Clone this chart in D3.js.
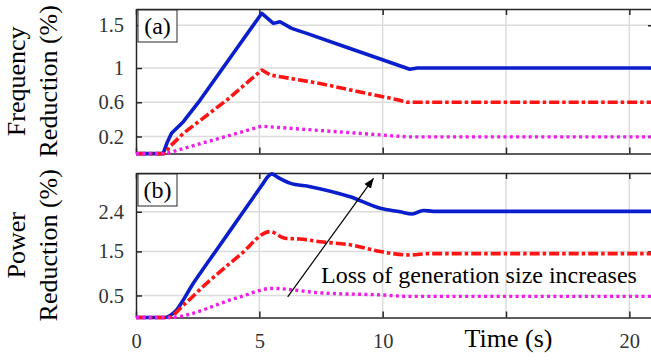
<!DOCTYPE html>
<html>
<head>
<meta charset="utf-8">
<script src="https://cdn.jsdelivr.net/npm/d3@7"></script>
<style>
  body { margin: 0; background: #fff; }
  svg { display: block; font-family: "Liberation Serif", "Times New Roman", serif; }
</style>
</head>
<body>
<svg id="chart" width="651" height="361"></svg>
<script>
// time ticks (s)
const timeTicks = [0, 5, 10, 15, 20];
const timeLabels = ['0', '5', '10', '', '20'];

// (a) frequency reduction (%)
const freqTicks = [0.2, 0.6, 1, 1.5];
const freqBlueT = [0, 1.1, 1.25, 1.44, 1.92, 2.6, 5.1, 5.57, 5.84, 6.31, 6.92, 8.27, 11.1, 11.4, 21];
const freqBlueV = [0, 0, 0.12, 0.237, 0.373, 0.626, 1.64, 1.522, 1.541, 1.464, 1.405, 1.269, 0.985, 1.0, 1.0];
const freqRedT = [0, 1.15, 1.4, 1.92, 3.68, 5.1, 5.45, 7.46, 9.08, 10.6, 11.0, 21];
const freqRedV = [0, 0, 0.09, 0.237, 0.626, 0.977, 0.918, 0.82, 0.72, 0.63, 0.6, 0.6];
const freqMagT = [0, 1.2, 5.1, 7.46, 10, 11, 21];
const freqMagV = [0, 0, 0.32, 0.27, 0.217, 0.195, 0.195];

// (b) power reduction (%)
const powTicks = [0.5, 1.5, 2.4];
const powBlueT = [0, 1.18, 1.4, 1.65, 1.92, 2.26, 2.66, 3.2, 4.2, 5.1, 5.35, 5.5, 5.75, 6.24, 7.06, 8.68, 9.9, 10.7, 11.2, 11.65, 12.05, 21];
const powBlueV = [0, 0, 0.05, 0.17, 0.4, 0.72, 1.05, 1.48, 2.28, 3.0, 3.2, 3.26, 3.18, 3.05, 2.97, 2.74, 2.48, 2.4, 2.35, 2.43, 2.41, 2.41];
const powRedT = [0, 1.3, 1.92, 2.87, 3.81, 4.22, 5.43, 6.04, 6.65, 7.46, 8.68, 9.9, 10.3, 11.1, 11.9, 21];
const powRedV = [0, 0, 0.28, 0.78, 1.23, 1.42, 1.95, 1.8, 1.78, 1.72, 1.65, 1.5, 1.46, 1.42, 1.45, 1.45];
const powMagT = [0, 1.3, 4.22, 5.5, 7.46, 10, 11, 21];
const powMagV = [0, 0, 0.47, 0.66, 0.56, 0.51, 0.48, 0.48];

const svg = d3.select('#chart');
const x = d3.scaleLinear().domain([0, 21]).range([136, 654]);

const styles = {
  blue: { color: '#0a1ecb', dash: null, width: 3.6 },
  red: { color: '#ff1414', dash: '10,3,3.5,3', width: 3.6 },
  mag: { color: '#ee1ee6', dash: '3,3.3', width: 3.4 },
};

function zip(t, v) {
  return t.map((d, i) => [d, v[i]]);
}

function drawPanel(p) {
  const y = d3.scaleLinear().domain(p.domain).range(p.range);
  const g = svg.append('g');
  const [x0, x1] = x.range();
  const [yb, yt] = y.range();

  // grid
  g.selectAll('.gx').data(timeTicks.filter((d) => d > 0)).enter().append('line')
    .attr('x1', (d) => x(d)).attr('x2', (d) => x(d))
    .attr('y1', yb).attr('y2', yt)
    .attr('stroke', '#dcdcdc').attr('stroke-width', 1.5);
  g.selectAll('.gy').data(p.ticks).enter().append('line')
    .attr('x1', x0).attr('x2', x1)
    .attr('y1', (d) => y(d)).attr('y2', (d) => y(d))
    .attr('stroke', '#dcdcdc').attr('stroke-width', 1.5);

  // axes (ticks inward, box on)
  const bottom = d3.axisBottom(x).tickValues(timeTicks).tickSize(-6).tickSizeOuter(0).tickPadding(16)
    .tickFormat((d, i) => (p.xLabels ? timeLabels[i] : ''));
  const top = d3.axisTop(x).tickValues(timeTicks).tickSize(-6).tickSizeOuter(0).tickFormat('');
  const left = d3.axisLeft(y).tickValues(p.ticks).tickSize(-6).tickSizeOuter(0).tickPadding(12)
    .tickFormat(d3.format('~g'));
  const right = d3.axisRight(y).tickValues(p.ticks).tickSize(-6).tickSizeOuter(0).tickFormat('');

  [
    [bottom, `translate(0,${yb})`],
    [top, `translate(0,${yt})`],
    [left, `translate(${x0},0)`],
    [right, `translate(${x1},0)`],
  ].forEach(([ax, tr]) => {
    const a = g.append('g').attr('transform', tr).call(ax);
    a.selectAll('path, line').attr('stroke', '#262626').attr('stroke-width', 1.5);
    a.selectAll('text').attr('fill', '#333').style('font-size', '20.5px')
      .style('font-family', '"Liberation Serif", "Times New Roman", serif');
  });

  // series
  const line = d3.line().x((d) => x(d[0])).y((d) => y(d[1])).curve(p.curve);
  p.series.forEach((s) => {
    const st = styles[s.style];
    g.append('path')
      .datum(zip(s.t, s.v))
      .attr('fill', 'none')
      .attr('stroke', st.color)
      .attr('stroke-width', st.width)
      .attr('stroke-dasharray', st.dash)
      .attr('stroke-linejoin', 'round')
      .attr('d', line);
  });

  // panel tag
  g.append('rect')
    .attr('x', x0 + 2).attr('y', yt + 1)
    .attr('width', 39).attr('height', 32)
    .attr('fill', '#fff').attr('stroke', '#262626').attr('stroke-width', 1);
  g.append('text')
    .attr('x', x0 + 21.5).attr('y', yt + 25)
    .attr('text-anchor', 'middle')
    .style('font-size', '24px')
    .text(p.tag);

  // y label
  const yc = (yb + yt) / 2;
  p.ylabel.forEach((txt, i) => {
    g.append('text')
      .attr('transform', `translate(${25 + i * 32},${yc}) rotate(-90)`)
      .attr('text-anchor', 'middle')
      .style('font-size', '26px')
      .text(txt);
  });

  return y;
}

drawPanel({
  domain: [0, 1.69], range: [153.6, 9], ticks: freqTicks, xLabels: false,
  curve: d3.curveLinear, tag: '(a)', ylabel: ['Frequency', 'Reduction (%)'],
  series: [
    { t: freqBlueT, v: freqBlueV, style: 'blue' },
    { t: freqRedT, v: freqRedV, style: 'red' },
    { t: freqMagT, v: freqMagV, style: 'mag' },
  ],
});

const yPow = drawPanel({
  domain: [0, 3.28], range: [317.5, 173], ticks: powTicks, xLabels: true,
  curve: d3.curveMonotoneX, tag: '(b)', ylabel: ['Power', 'Reduction (%)'],
  series: [
    { t: powBlueT, v: powBlueV, style: 'blue' },
    { t: powRedT, v: powRedV, style: 'red' },
    { t: powMagT, v: powMagV, style: 'mag' },
  ],
});

// x label
svg.append('text')
  .attr('x', x(15.1)).attr('y', 347)
  .attr('text-anchor', 'middle')
  .style('font-size', '26px')
  .text('Time (s)');

// annotation arrow
svg.append('defs').append('marker')
  .attr('id', 'head').attr('viewBox', '0 0 10 10')
  .attr('refX', 10).attr('refY', 5)
  .attr('markerWidth', 10).attr('markerHeight', 10)
  .attr('markerUnits', 'userSpaceOnUse')
  .attr('orient', 'auto')
  .append('path').attr('d', 'M0,1 L10,5 L0,9 Z').attr('fill', '#000');

svg.append('line')
  .attr('x1', x(6.15)).attr('y1', yPow(0.47))
  .attr('x2', x(9.63)).attr('y2', yPow(3.16))
  .attr('stroke', '#000').attr('stroke-width', 1.2)
  .attr('marker-end', 'url(#head)');

svg.append('text')
  .attr('x', 321).attr('y', 283)
  .style('font-size', '24px')
  .text('Loss of generation size increases');
</script>
</body>
</html>
